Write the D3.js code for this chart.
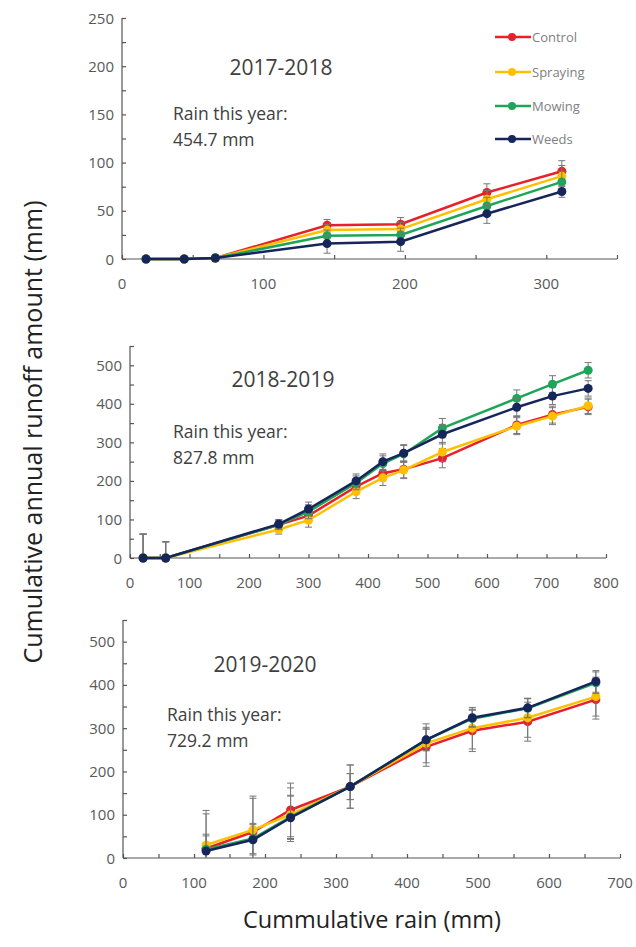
<!DOCTYPE html>
<meta charset="utf-8">
<head>
<script src="https://d3js.org/d3.v7.min.js"></script>
<style>
  body { margin: 0; background: #fff; }
  text { font-family: "Open Sans", "DejaVu Sans", sans-serif; }
</style>
</head>
<body>
<div id="chart"></div>
<script>
// series names and colours
var series = ["Control", "Spraying", "Mowing", "Weeds"];
var colors = ["#e8202a", "#ffc000", "#1fa55a", "#16265a"];

// 2017-2018
var rain1 = [17, 44, 66, 145, 197, 258, 311];
var control1 = [0, 0, 1, 35, 36, 69, 91];
var spraying1 = [0, 0, 1, 30, 31, 62, 86];
var mowing1 = [0, 0, 1, 24, 25, 55, 80];
var weeds1 = [0, 0, 1, 16, 18, 47, 70];
var err1 = [0, 0, 0, 6, 7, 9, 11];
var errWeeds1 = [0, 0, 0, 10, 10, 10, 6];

// 2018-2019
var rain2 = [22, 60, 250, 300, 380, 425, 460, 525, 650, 710, 770];
var control2 = [0, 0, 86, 110, 185, 220, 230, 259, 345, 372, 392];
var spraying2 = [0, 0, 74, 98, 172, 208, 228, 275, 342, 368, 395];
var mowing2 = [0, 0, 86, 120, 195, 245, 270, 337, 414, 451, 487];
var weeds2 = [0, 0, 88, 127, 200, 250, 272, 321, 391, 420, 440];
var err2 = [62, 42, 12, 18, 18, 20, 22, 25, 22, 22, 20];

// 2019-2020
var rain3 = [117, 183, 236, 320, 427, 492, 570, 666];
var control3 = [22, 60, 111, 165, 257, 294, 315, 366];
var spraying3 = [30, 65, 100, 165, 265, 300, 324, 373];
var mowing3 = [20, 45, 95, 165, 273, 322, 346, 405];
var weeds3 = [16, 42, 93, 165, 273, 324, 347, 408];
var errBig3 = [80, 78, 62, 50, 45, 48, 45, 45];
var errSmall3 = [35, 35, 50, 30, 25, 20, 22, 25];

// tick labels
var yTicks1 = [0, 50, 100, 150, 200, 250];
var yTicks2 = [0, 100, 200, 300, 400, 500];
var xTicks1 = [0, 100, 200, 300];
var xTicks2 = [0, 100, 200, 300, 400, 500, 600, 700, 800];
var xTicks3 = [0, 100, 200, 300, 400, 500, 600, 700];

var W = 636, H = 947;
var svg = d3.select("#chart").append("svg")
    .attr("width", W).attr("height", H);

var axisColor = "#555";
var labelColor = "#595959";

var panels = [
  { title: "2017-2018", rainText: "454.7 mm",
    xDomain: [0, 350], xRange: [122, 617], yDomain: [0, 250], yRange: [259, 18],
    xTicks: xTicks1, xMinor: d3.range(0, 351, 50), yTicks: yTicks1, yMinor: d3.range(0, 251, 25),
    titlePos: [281, 75], rainPos: [173, 120],
    x: rain1, ys: [control1, spraying1, mowing1, weeds1],
    errs: [err1, err1, err1, errWeeds1] },
  { title: "2018-2019", rainText: "827.8 mm",
    xDomain: [0, 800], xRange: [130, 606], yDomain: [0, 550], yRange: [558, 346],
    xTicks: xTicks2, xMinor: d3.range(0, 801, 50), yTicks: yTicks2, yMinor: d3.range(0, 551, 50),
    titlePos: [283, 387], rainPos: [173, 438],
    x: rain2, ys: [control2, spraying2, mowing2, weeds2],
    errs: [err2, err2, err2, err2] },
  { title: "2019-2020", rainText: "729.2 mm",
    xDomain: [0, 700], xRange: [123, 620], yDomain: [0, 550], yRange: [858, 620],
    xTicks: xTicks3, xMinor: d3.range(0, 701, 50), yTicks: yTicks2, yMinor: d3.range(0, 551, 50),
    titlePos: [265, 672], rainPos: [167, 721],
    x: rain3, ys: [control3, spraying3, mowing3, weeds3],
    errs: [errBig3, errBig3, errSmall3, errSmall3] }
];

panels.forEach(function(p) {
  var x = d3.scaleLinear().domain(p.xDomain).range(p.xRange);
  var y = d3.scaleLinear().domain(p.yDomain).range(p.yRange).clamp(true);
  var g = svg.append("g");

  // x axis line + inside ticks
  var xAxis = g.append("g").attr("transform", "translate(0," + y(0) + ")")
    .call(d3.axisTop(x).tickValues(p.xMinor).tickSize(4).tickFormat(""));
  xAxis.selectAll("path,line").attr("stroke", axisColor).attr("stroke-width", 1.2);
  xAxis.select(".domain").attr("d", "M" + x.range()[0] + ",0H" + x.range()[1]);

  g.selectAll(".xl").data(p.xTicks).enter().append("text")
    .attr("x", function(d) { return x(d); })
    .attr("y", y(0) + 30)
    .attr("text-anchor", "middle")
    .attr("font-size", 15).attr("fill", labelColor)
    .text(function(d) { return d; });

  // y axis line + inside ticks
  var yAxis = g.append("g").attr("transform", "translate(" + x(0) + ",0)")
    .call(d3.axisRight(y).tickValues(p.yMinor).tickSize(4).tickFormat(""));
  yAxis.selectAll("path,line").attr("stroke", axisColor).attr("stroke-width", 1.2);
  yAxis.select(".domain").attr("d", "M0," + y.range()[0] + "V" + y.range()[1]);

  g.selectAll(".yl").data(p.yTicks).enter().append("text")
    .attr("x", x(0) - 8)
    .attr("y", function(d) { return y(d) + 5.5; })
    .attr("text-anchor", "end")
    .attr("font-size", 15).attr("fill", labelColor)
    .text(function(d) { return d; });

  // titles
  g.append("text").attr("x", p.titlePos[0]).attr("y", p.titlePos[1])
    .attr("text-anchor", "middle").attr("font-size", 21).attr("fill", "#404040")
    .text(p.title);
  g.append("text").attr("x", p.rainPos[0]).attr("y", p.rainPos[1])
    .attr("font-size", 17.5).attr("fill", "#404040").text("Rain this year:");
  g.append("text").attr("x", p.rainPos[0]).attr("y", p.rainPos[1] + 26)
    .attr("font-size", 17.5).attr("fill", "#404040").text(p.rainText);

  var line = d3.line()
    .x(function(d) { return x(d[0]); })
    .y(function(d) { return y(d[1]); });

  p.ys.forEach(function(vals, si) {
    var pts = p.x.map(function(xv, i) { return [xv, vals[i], p.errs[si][i]]; });
    var sg = g.append("g");
    // error bars
    sg.selectAll(".eb").data(pts.filter(function(d) { return d[2] > 0; })).enter()
      .append("path")
      .attr("d", function(d) {
        var cx = x(d[0]), t = y(d[1] + d[2]), b = y(d[1] - d[2]);
        return "M" + cx + "," + t + "V" + b +
               "M" + (cx - 3.5) + "," + t + "H" + (cx + 3.5) +
               (d[1] - d[2] > 0 ? "M" + (cx - 3.5) + "," + b + "H" + (cx + 3.5) : "");
      })
      .attr("stroke", "#777").attr("stroke-width", 1).attr("fill", "none");
    sg.append("path").datum(pts).attr("d", line)
      .attr("fill", "none").attr("stroke", colors[si]).attr("stroke-width", 2.5);
    sg.selectAll("circle").data(pts).enter().append("circle")
      .attr("cx", function(d) { return x(d[0]); })
      .attr("cy", function(d) { return y(d[1]); })
      .attr("r", 4.5).attr("fill", colors[si]);
  });
});

// legend
var legend = svg.append("g");
series.forEach(function(s, i) {
  var ly = [37, 72, 106, 139][i];
  legend.append("line").attr("x1", 495).attr("x2", 531).attr("y1", ly).attr("y2", ly)
    .attr("stroke", colors[i]).attr("stroke-width", 2.5);
  legend.append("circle").attr("cx", 512).attr("cy", ly).attr("r", 4).attr("fill", colors[i]);
  legend.append("text").attr("x", 532).attr("y", ly + 4.5)
    .attr("font-size", 13).attr("fill", "#808080").text(s);
});

// axis titles
svg.append("text")
  .attr("transform", "translate(42,432) rotate(-90)")
  .attr("text-anchor", "middle").attr("font-size", 25).attr("fill", "#222")
  .text("Cumulative annual runoff amount  (mm)");
svg.append("text")
  .attr("x", 372).attr("y", 928)
  .attr("text-anchor", "middle").attr("font-size", 23.5).attr("fill", "#222")
  .text("Cummulative rain (mm)");
</script>
</body>
